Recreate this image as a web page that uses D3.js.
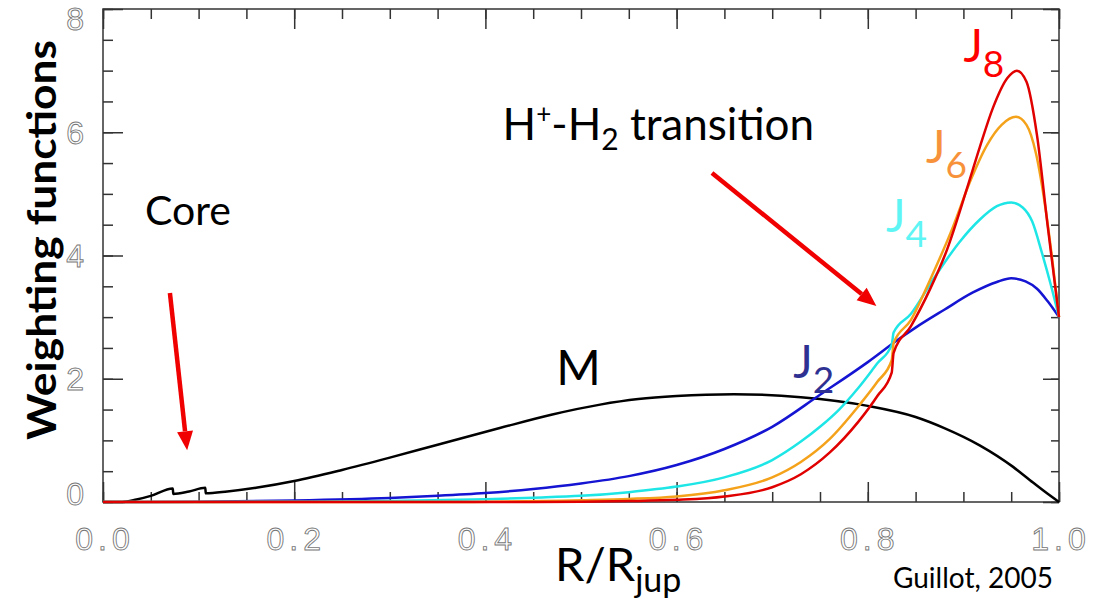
<!DOCTYPE html>
<html>
<head>
  <meta charset="utf-8">
  <title>Weighting functions</title>
  <style>
    body { margin: 0; padding: 0; background: white; }
    svg { display: block; }
    .frame { fill: none; stroke: #333; stroke-width: 1.5; }
    .tick line { stroke: #333; stroke-width: 1.5; }
    .ticklab { font-family: "Liberation Sans", sans-serif; font-size: 32px; fill: none; stroke: #777; stroke-width: 0.9; letter-spacing: 5px; }
    .curve { fill: none; stroke-width: 2.5; stroke-linejoin: round; }
    .note { font-family: Lato, "Open Sans", sans-serif; }
  </style>
</head>
<body>
  <div id="chart"></div>
  <script src="https://d3js.org/d3.v7.min.js"></script>
  <script>
    // curve data: R/Rjup and weighting function value
    var rM = [0, 0.02, 0.035, 0.05, 0.073, 0.0735, 0.09, 0.107, 0.1075, 0.13, 0.16, 0.2, 0.25, 0.3, 0.35, 0.415, 0.47, 0.52, 0.56, 0.6, 0.66, 0.73, 0.8, 0.85, 0.88, 0.917, 0.952, 0.97, 0.985, 1.0]
    var wM = [0, 0, 0.04, 0.1, 0.22, 0.13, 0.17, 0.23, 0.14, 0.17, 0.23, 0.34, 0.52, 0.72, 0.93, 1.2, 1.42, 1.58, 1.67, 1.72, 1.75, 1.7, 1.56, 1.38, 1.2, 0.92, 0.57, 0.35, 0.17, 0]

    var rJ2 = [0, 0.1, 0.2, 0.3, 0.35, 0.4, 0.45, 0.5, 0.55, 0.6, 0.65, 0.7, 0.75, 0.8, 0.834, 0.85, 0.88, 0.91, 0.935, 0.95, 0.965, 0.977, 0.988, 1.0]
    var wJ2 = [0, 0.005, 0.025, 0.065, 0.1, 0.145, 0.21, 0.3, 0.42, 0.6, 0.86, 1.22, 1.74, 2.27, 2.66, 2.83, 3.12, 3.4, 3.57, 3.63, 3.58, 3.46, 3.26, 3.0]

    var rJ4 = [0, 0.2, 0.3, 0.4, 0.45, 0.5, 0.55, 0.6, 0.65, 0.7, 0.73, 0.75, 0.77, 0.79, 0.81, 0.825, 0.827, 0.845, 0.87, 0.896, 0.917, 0.935, 0.95, 0.962, 0.972, 0.982, 0.991, 1.0]
    var wJ4 = [0, 0.003, 0.015, 0.045, 0.07, 0.1, 0.16, 0.25, 0.4, 0.68, 0.98, 1.22, 1.5, 1.85, 2.25, 2.55, 2.75, 3.05, 3.65, 4.22, 4.58, 4.8, 4.86, 4.78, 4.55, 4.05, 3.55, 3.0]

    var rJ6 = [0, 0.35, 0.5, 0.55, 0.6, 0.65, 0.7, 0.73, 0.76, 0.79, 0.81, 0.825, 0.827, 0.845, 0.865, 0.889, 0.907, 0.925, 0.94, 0.955, 0.966, 0.976, 0.986, 0.994, 1.0]
    var wJ6 = [0, 0, 0.03, 0.05, 0.09, 0.19, 0.4, 0.65, 1.02, 1.55, 1.95, 2.3, 2.58, 2.95, 3.6, 4.46, 5.2, 5.8, 6.12, 6.25, 6.12, 5.65, 4.75, 3.8, 3.0]

    var rJ8 = [0, 0.45, 0.55, 0.6, 0.65, 0.7, 0.73, 0.76, 0.79, 0.81, 0.825, 0.827, 0.845, 0.865, 0.883, 0.904, 0.917, 0.931, 0.946, 0.956, 0.966, 0.977, 0.988, 1.0]
    var wJ8 = [0, 0, 0.015, 0.035, 0.09, 0.24, 0.45, 0.8, 1.3, 1.72, 2.1, 2.42, 2.85, 3.45, 4.1, 5.1, 5.75, 6.4, 6.88, 7.0, 6.82, 5.95, 4.5, 3.0]

    var seriesNames = ["M", "J2", "J4", "J6", "J8"]
    var seriesColors = ["#000000", "#1414d2", "#1ee6e6", "#f5a21b", "#e00000"]

    var xTicks = [0, 0.2, 0.4, 0.6, 0.8, 1.0]
    var xTickLabels = ["0.0", "0.2", "0.4", "0.6", "0.8", "1.0"]
    var yTicks = [0, 2, 4, 6, 8]
    var yTickLabels = ["0", "2", "4", "6", "8"]

    var width = 1105,
        height = 600

    var svg = d3.select("#chart")
      .append("svg")
      .attr("width", width)
      .attr("height", height)

    var x = d3.scaleLinear().domain([0, 1]).range([103, 1059])
    var y = d3.scaleLinear().domain([0, 8]).range([502, 9])

    // ticks on all four sides, pointing inward
    function ticks(axisFn, scale, values, size, transform) {
      svg.append("g")
        .attr("class", "tick")
        .attr("transform", transform)
        .call(axisFn(scale).tickValues(values).tickSize(size).tickFormat(""))
        .call(function (g) { g.select(".domain").remove() })
    }
    var xMinor = d3.range(0, 1.0001, 0.05), yMinor = d3.range(0, 8.0001, 0.5)
    ticks(d3.axisBottom, x, xMinor, -10, "translate(0," + y(0) + ")")
    ticks(d3.axisBottom, x, xTicks, -20, "translate(0," + y(0) + ")")
    ticks(d3.axisTop, x, xMinor, -10, "translate(0," + y(8) + ")")
    ticks(d3.axisTop, x, xTicks, -20, "translate(0," + y(8) + ")")
    ticks(d3.axisLeft, y, yMinor, -10, "translate(" + x(0) + ",0)")
    ticks(d3.axisLeft, y, yTicks, -20, "translate(" + x(0) + ",0)")
    ticks(d3.axisRight, y, yMinor, -8, "translate(" + x(1) + ",0)")
    ticks(d3.axisRight, y, yTicks, -16, "translate(" + x(1) + ",0)")

    svg.append("rect")
      .attr("class", "frame")
      .attr("x", x(0)).attr("y", y(8))
      .attr("width", x(1) - x(0)).attr("height", y(0) - y(8))

    // tick labels
    svg.append("g").selectAll("text")
      .data(xTicks).enter().append("text")
      .attr("class", "ticklab")
      .attr("x", function (d) { return x(d) + 2 })
      .attr("y", y(0) + 48)
      .attr("text-anchor", "middle")
      .text(function (d, i) { return xTickLabels[i] })

    svg.append("g").selectAll("text")
      .data(yTicks).enter().append("text")
      .attr("class", "ticklab")
      .attr("x", x(0) - 14)
      .attr("y", function (d) { return Math.min(Math.max(y(d), 18), 493) })
      .attr("dy", "0.36em")
      .attr("text-anchor", "end")
      .text(function (d, i) { return yTickLabels[i] })

    // curves
    var line = d3.line()
      .x(function (d) { return x(d[0]) })
      .y(function (d) { return y(d[1]) })
      .curve(d3.curveMonotoneX)

    var seriesData = [d3.zip(rM, wM), d3.zip(rJ2, wJ2), d3.zip(rJ4, wJ4), d3.zip(rJ6, wJ6), d3.zip(rJ8, wJ8)]

    svg.append("g").selectAll("path")
      .data(seriesData).enter().append("path")
      .attr("class", "curve")
      .attr("d", line)
      .style("stroke", function (d, i) { return seriesColors[i] })

    // annotations, placed in data units
    var arrows = [
      { from: [0.07, 3.39], to: [0.088, 0.84] },
      { from: [0.637, 5.34], to: [0.809, 3.18] }
    ]
    arrows.forEach(function (a) {
      var x0 = x(a.from[0]), y0 = y(a.from[1]), x1 = x(a.to[0]), y1 = y(a.to[1])
      var ang = Math.atan2(y1 - y0, x1 - x0), head = 19, half = 8
      var bx = x1 - head * Math.cos(ang), by = y1 - head * Math.sin(ang)
      svg.append("line")
        .attr("x1", x0).attr("y1", y0).attr("x2", bx).attr("y2", by)
        .attr("stroke", "#f00000").attr("stroke-width", 4.5)
      svg.append("path")
        .attr("d", "M" + x1 + "," + y1 +
          "L" + (bx + half * Math.sin(ang)) + "," + (by - half * Math.cos(ang)) +
          "L" + (bx - half * Math.sin(ang)) + "," + (by + half * Math.cos(ang)) + "Z")
        .attr("fill", "#f00000")
    })

    function note(px, py, size, color, parts) {
      var t = svg.append("text").attr("class", "note")
        .attr("x", px).attr("y", py)
        .style("font-size", size + "px").style("fill", color)
      parts.forEach(function (p) {
        t.append("tspan").attr("dy", p.dy || 0).style("font-size", p.size ? p.size + "px" : null).text(p.t)
      })
      return t
    }

    note(x(0.044), y(4.5), 41, "#000", [{ t: "Core" }])
    note(x(0.418), y(5.88), 44, "#000", [{ t: "H" }, { t: "+", dy: -17, size: 26 }, { t: "-H", dy: 17 }, { t: "2", dy: 10, size: 30 }, { t: " transition", dy: -10 }])
    note(x(0.474), y(1.9), 48, "#000", [{ t: "M" }])
    note(x(0.722), y(2.02), 46, "#2e3192", [{ t: "J" }, { t: "2", dy: 15, size: 37 }])
    note(x(0.819), y(4.38), 46, "#5ff5f5", [{ t: "J" }, { t: "4", dy: 15, size: 37 }])
    note(x(0.861), y(5.5), 46, "#f7923a", [{ t: "J" }, { t: "6", dy: 15, size: 37 }])
    note(x(0.9), y(7.14), 46, "#ff0000", [{ t: "J" }, { t: "8", dy: 15, size: 37 }])

    // axis titles
    svg.append("text").attr("class", "note")
      .attr("transform", "translate(56,240) rotate(-90)")
      .attr("text-anchor", "middle")
      .style("font-size", "40px").style("font-weight", "bold")
      .attr("textLength", 400).attr("lengthAdjust", "spacingAndGlyphs")
      .text("Weighting functions")

    note(555, 581, 47, "#000", [{ t: "R/R" }, { t: "jup", dy: 11, size: 34 }])
    note(893, 588, 28, "#000", [{ t: "Guillot, 2005" }])
  </script>
</body>
</html>
